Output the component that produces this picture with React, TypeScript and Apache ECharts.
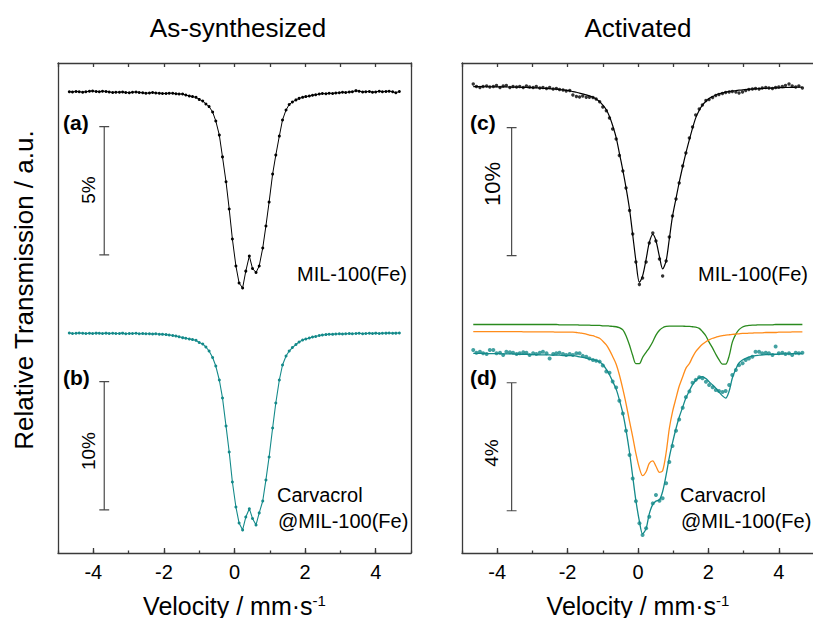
import React, { useEffect, useRef } from "react";
import * as echarts from "echarts";

// Channel velocities (mm/s), shared by all four spectra
const VELOCITY = [
  -4.68, -4.59, -4.49, -4.40, -4.30, -4.21, -4.11, -4.02, -3.92, -3.83,
  -3.74, -3.64, -3.55, -3.45, -3.36, -3.26, -3.17, -3.08, -2.98, -2.89,
  -2.79, -2.70, -2.60, -2.51, -2.41, -2.32, -2.23, -2.13, -2.04, -1.94,
  -1.85, -1.75, -1.66, -1.57, -1.47, -1.38, -1.28, -1.19, -1.09, -1.00,
  -0.90, -0.81, -0.72, -0.62, -0.53, -0.43, -0.34, -0.24, -0.15, -0.06,
  0.04, 0.13, 0.23, 0.32, 0.42, 0.51, 0.61, 0.70, 0.80, 0.89,
  0.98, 1.08, 1.17, 1.27, 1.36, 1.46, 1.55, 1.64, 1.74, 1.83,
  1.93, 2.02, 2.12, 2.21, 2.30, 2.40, 2.49, 2.59, 2.68, 2.78,
  2.87, 2.97, 3.06, 3.15, 3.25, 3.34, 3.44, 3.53, 3.63, 3.72,
  3.82, 3.91, 4.00, 4.10, 4.19, 4.29, 4.38, 4.48, 4.57, 4.67,
];

// (a) As-synthesized MIL-100(Fe), relative transmission %
const AS_MIL = [
  100.00, 99.99, 100.01, 100.00, 99.98, 100.00, 100.02, 100.03, 100.01, 100.00,
  100.02, 100.01, 99.99, 99.97, 99.98, 99.98, 99.99, 99.97, 99.96, 99.98,
  99.99, 99.97, 99.96, 99.94, 99.95, 99.97, 99.95, 99.94, 99.93, 99.93,
  99.94, 99.94, 99.92, 99.91, 99.91, 99.87, 99.83, 99.81, 99.78, 99.70,
  99.64, 99.52, 99.42, 99.21, 98.86, 98.31, 97.46, 96.49, 95.43, 94.26,
  93.21, 92.55, 92.35, 93.01, 93.60, 93.11, 92.96, 93.21, 93.91, 94.77,
  95.70, 96.79, 97.53, 98.27, 98.90, 99.29, 99.50, 99.60, 99.68, 99.74,
  99.78, 99.81, 99.83, 99.86, 99.88, 99.91, 99.93, 99.92, 99.94, 99.93,
  99.95, 99.96, 99.98, 99.97, 99.99, 100.00, 100.04, 100.02, 99.99, 100.00,
  100.01, 99.98, 99.99, 100.02, 100.00, 100.01, 100.02, 100.00, 99.96, 100.01,
];

// (b) As-synthesized Carvacrol@MIL-100(Fe)
const AS_CARV = [
  100.02, 99.98, 100.00, 100.02, 100.00, 99.98, 100.00, 99.99, 100.01, 100.00,
  99.98, 100.01, 99.99, 100.00, 99.98, 99.99, 100.01, 99.97, 99.99, 99.98,
  100.00, 99.97, 99.98, 99.96, 99.97, 99.95, 99.96, 99.93, 99.92, 99.90,
  99.87, 99.83, 99.79, 99.73, 99.66, 99.61, 99.56, 99.51, 99.45, 99.28,
  99.17, 98.93, 98.62, 98.11, 97.45, 96.36, 94.96, 92.77, 90.75, 88.41,
  86.46, 85.21, 84.67, 85.68, 86.33, 85.57, 85.06, 86.00, 86.93, 88.57,
  90.36, 92.62, 94.57, 96.36, 97.53, 98.23, 98.62, 98.89, 99.13, 99.32,
  99.48, 99.56, 99.63, 99.71, 99.75, 99.83, 99.87, 99.90, 99.93, 99.92,
  99.95, 99.97, 99.94, 99.96, 99.99, 99.97, 99.98, 100.00, 99.97, 99.99,
  100.00, 99.98, 100.01, 99.99, 100.00, 100.01, 100.02, 100.00, 100.01, 100.02,
];

// (c) Activated MIL-100(Fe): data and fit
const ACT_MIL = [
  100.20, 100.00, 99.92, 100.00, 100.04, 99.96, 100.00, 100.08, 99.92, 100.04,
  100.08, 99.92, 100.00, 99.96, 100.00, 99.92, 100.04, 99.96, 99.92, 100.00,
  99.88, 99.92, 99.84, 99.92, 99.80, 99.84, 99.77, 99.73, 99.65, 99.69,
  99.34, 99.22, 99.18, 99.26, 99.16, 99.16, 99.14, 99.02, 98.81, 98.40,
  98.11, 97.54, 96.68, 95.90, 94.61, 93.40, 92.07, 90.31, 88.48, 86.29,
  84.53, 85.04, 86.29, 87.77, 88.55, 87.93, 86.52, 85.20, 86.37, 88.24,
  89.88, 91.21, 92.46, 93.79, 94.80, 95.98, 96.84, 97.77, 98.24, 98.55,
  98.91, 98.98, 99.14, 99.30, 99.38, 99.45, 99.53, 99.57, 99.61, 99.57,
  99.49, 99.57, 99.69, 99.77, 99.80, 99.84, 99.80, 99.88, 99.92, 99.88,
  99.84, 99.92, 99.96, 100.00, 100.08, 100.20, 100.04, 99.96, 100.04, 99.88,
];
const ACT_MIL_FIT = [
  99.99, 99.99, 99.99, 99.98, 99.98, 99.98, 99.98, 99.97, 99.97, 99.97,
  99.96, 99.96, 99.95, 99.95, 99.94, 99.93, 99.92, 99.91, 99.90, 99.89,
  99.88, 99.86, 99.85, 99.83, 99.81, 99.79, 99.76, 99.73, 99.70, 99.66,
  99.60, 99.55, 99.48, 99.42, 99.35, 99.27, 99.16, 99.02, 98.82, 98.55,
  98.18, 97.65, 96.95, 96.00, 94.80, 93.45, 92.10, 90.40, 88.40, 86.40,
  84.70, 85.20, 86.50, 87.80, 88.45, 87.95, 86.70, 85.75, 86.40, 88.10,
  89.85, 91.25, 92.50, 93.75, 94.80, 95.85, 96.75, 97.55, 98.15, 98.55,
  98.85, 99.07, 99.22, 99.34, 99.43, 99.50, 99.56, 99.61, 99.65, 99.68,
  99.71, 99.74, 99.76, 99.78, 99.80, 99.82, 99.83, 99.85, 99.86, 99.87,
  99.88, 99.89, 99.90, 99.91, 99.92, 99.93, 99.93, 99.94, 99.94, 99.95,
];

// (d) Activated Carvacrol@MIL-100(Fe): data, total fit and two sub-spectra
const ACT_CARV = [
  100.10, 100.02, 100.05, 100.00, 99.98, 100.10, 100.10, 100.00, 100.02, 99.95,
  100.05, 100.03, 100.02, 99.98, 100.00, 100.03, 100.02, 99.95, 100.00, 99.98,
  100.02, 100.05, 100.00, 99.84, 99.98, 100.00, 100.02, 99.98, 99.95, 99.98,
  99.95, 100.00, 100.00, 99.92, 99.89, 99.84, 99.79, 99.77, 99.74, 99.62,
  99.43, 99.39, 99.12, 98.93, 98.52, 98.12, 97.58, 96.82, 96.09, 95.38,
  94.69, 94.32, 94.53, 94.89, 95.31, 95.57, 95.39, 95.47, 95.94, 96.60,
  97.10, 97.58, 97.93, 98.30, 98.63, 98.81, 99.08, 99.17, 99.25, 99.22,
  99.11, 99.01, 98.94, 98.85, 98.82, 98.79, 98.82, 99.01, 99.32, 99.48,
  99.63, 99.69, 99.79, 99.84, 99.89, 100.05, 100.05, 100.00, 100.02, 100.00,
  99.95, 100.21, 100.00, 100.02, 99.98, 100.00, 99.95, 100.02, 100.00, 100.02,
];
const ACT_CARV_FIT = [
  100.00, 100.00, 100.00, 100.00, 99.99, 99.99, 99.99, 99.99, 99.99, 99.98,
  99.98, 99.98, 99.98, 99.97, 99.97, 99.97, 99.97, 99.96, 99.96, 99.96,
  99.95, 99.95, 99.95, 99.95, 99.94, 99.94, 99.94, 99.93, 99.93, 99.93,
  99.93, 99.91, 99.89, 99.87, 99.85, 99.82, 99.80, 99.77, 99.73, 99.65,
  99.50, 99.33, 99.12, 98.88, 98.55, 98.12, 97.60, 96.90, 96.15, 95.40,
  94.75, 94.36, 94.52, 94.98, 95.28, 95.38, 95.42, 95.68, 96.20, 96.75,
  97.20, 97.65, 98.00, 98.32, 98.60, 98.83, 99.02, 99.15, 99.24, 99.27,
  99.21, 99.11, 99.01, 98.91, 98.79, 98.67, 98.60, 98.82, 99.23, 99.51,
  99.70, 99.79, 99.84, 99.88, 99.91, 99.93, 99.94, 99.95, 99.96, 99.96,
  99.97, 99.97, 99.97, 99.98, 99.98, 99.98, 99.99, 99.99, 99.99, 99.99,
];
const ACT_CARV_GREEN = [
  100.90, 100.90, 100.90, 100.90, 100.90, 100.90, 100.90, 100.90, 100.90, 100.90,
  100.90, 100.90, 100.90, 100.90, 100.90, 100.90, 100.90, 100.90, 100.90, 100.90,
  100.90, 100.90, 100.90, 100.90, 100.90, 100.90, 100.89, 100.89, 100.89, 100.89,
  100.89, 100.89, 100.88, 100.88, 100.88, 100.88, 100.87, 100.87, 100.87, 100.86,
  100.86, 100.85, 100.84, 100.83, 100.80, 100.73, 100.55, 100.25, 99.93, 99.68,
  99.68, 99.87, 100.03, 100.17, 100.36, 100.57, 100.72, 100.80, 100.84, 100.85,
  100.85, 100.85, 100.85, 100.85, 100.84, 100.84, 100.83, 100.82, 100.78, 100.68,
  100.54, 100.35, 100.16, 99.97, 99.80, 99.66, 99.66, 99.92, 100.35, 100.60,
  100.74, 100.82, 100.86, 100.87, 100.88, 100.88, 100.89, 100.89, 100.89, 100.89,
  100.89, 100.90, 100.90, 100.90, 100.90, 100.90, 100.90, 100.90, 100.90, 100.90,
];
const ACT_CARV_ORANGE = [
  100.68, 100.68, 100.68, 100.68, 100.68, 100.68, 100.68, 100.68, 100.68, 100.68,
  100.68, 100.68, 100.68, 100.68, 100.68, 100.67, 100.67, 100.67, 100.67, 100.67,
  100.67, 100.67, 100.67, 100.67, 100.67, 100.66, 100.66, 100.66, 100.66, 100.66,
  100.66, 100.65, 100.64, 100.62, 100.60, 100.57, 100.55, 100.51, 100.47, 100.38,
  100.26, 100.10, 99.90, 99.66, 99.33, 98.88, 98.43, 97.87, 97.39, 96.87,
  96.41, 96.18, 96.30, 96.56, 96.64, 96.47, 96.28, 96.33, 96.90, 97.65,
  98.17, 98.60, 98.97, 99.27, 99.53, 99.68, 99.88, 100.05, 100.18, 100.28,
  100.36, 100.42, 100.47, 100.50, 100.53, 100.55, 100.57, 100.58, 100.59, 100.60,
  100.61, 100.62, 100.62, 100.63, 100.63, 100.64, 100.64, 100.64, 100.65, 100.65,
  100.65, 100.65, 100.66, 100.66, 100.66, 100.66, 100.67, 100.67, 100.67, 100.67,
];

// Scale bars: (a), (b), (c), (d)
const SCALE_X = [-3.69, -3.69, -3.59, -3.59];
const SCALE_TOP = [98.64, 96.23, 96.78, 99.08];
const SCALE_PCT = [5, 10, 10, 4];
const SCALE_LABELS = ["5%", "10%", "10%", "4%"];

const MAJOR_TICKS = [-4, -2, 0, 2, 4];

const FONT = "'Liberation Sans', Arial, Helvetica, sans-serif";
const TEAL = "#148a8a";
const ORANGE = "#ff8c1a";
const GREEN = "#2a8a1e";
const AXIS_COLOR = "#3a3a3a";

// layout
const GRID_TOP = 63;
const GRID_H = 490;
const PANELS = [
  { left: 58, width: 353 },
  { left: 462, width: 352 },
];
// baseline pixel and px per % for each spectrum (a, b, c, d)
const SPEC_LAYOUT = [
  { base: 91.7, ppp: 25.67 },
  { base: 333.3, ppp: 12.83 },
  { base: 86.5, ppp: 12.8 },
  { base: 353.3, ppp: 32 },
];

const zip = (ys: number[]) => VELOCITY.map((v, i) => [v, ys[i]]);

function specAxis(gridIndex: number, k: number) {
  const { base, ppp } = SPEC_LAYOUT[k];
  return {
    gridIndex,
    type: "value",
    show: false,
    min: 100 - (GRID_TOP + GRID_H - base) / ppp,
    max: 100 + (base - GRID_TOP) / ppp,
    axisLine: { onZero: false },
    splitLine: { show: false },
  };
}

function scaleBar(k: number, xAxisIndex: number, yAxisIndex: number) {
  const x = SCALE_X[k];
  const t = SCALE_TOP[k];
  const b = t - SCALE_PCT[k];
  const c = 0.14;
  return {
    type: "line",
    xAxisIndex,
    yAxisIndex,
    data: [
      [x - c, t],
      [x + c, t],
      [x, t],
      [x, b],
      [x - c, b],
      [x + c, b],
    ],
    showSymbol: false,
    symbol: "none",
    lineStyle: { color: "#4a4a4a", width: 1.2 },
    silent: true,
    z: 5,
  };
}

export default function App() {
  const ref = useRef<HTMLDivElement>(null);

  useEffect(() => {
    if (!ref.current) return;
    const chart = echarts.init(ref.current, undefined, { renderer: "svg" });

    const axisLineStyle = { color: AXIS_COLOR, width: 1.3 };

    const xAxes: any[] = [];
    const yAxes: any[] = [];
    PANELS.forEach((_, g) => {
      xAxes.push({
        gridIndex: g,
        type: "value",
        position: "bottom",
        min: -5,
        max: 5,
        axisLine: { show: true, onZero: false, lineStyle: axisLineStyle },
        axisTick: {
          show: true,
          inside: true,
          length: 5,
          customValues: MAJOR_TICKS,
          lineStyle: axisLineStyle,
        },
        axisLabel: {
          show: true,
          customValues: MAJOR_TICKS,
          fontSize: 20,
          color: "#000",
          fontFamily: FONT,
          margin: 9,
        },
        splitLine: { show: false },
        name: "{a|Velocity / mm·s}{b|-1}",
        nameLocation: "middle",
        nameGap: 40,
        nameTextStyle: {
          rich: {
            a: { fontSize: 25, fontFamily: FONT, color: "#000" },
            b: { fontSize: 15, fontFamily: FONT, color: "#000", verticalAlign: "top" },
          },
        },
      });
      xAxes.push({
        gridIndex: g,
        type: "value",
        position: "bottom",
        min: -5,
        max: 5,
        interval: 1,
        axisLine: { show: false, onZero: false },
        axisTick: { show: true, inside: true, length: 2.5, lineStyle: axisLineStyle },
        axisLabel: { show: false },
        splitLine: { show: false },
      });
      xAxes.push({
        gridIndex: g,
        type: "value",
        position: "top",
        min: -5,
        max: 5,
        interval: 1,
        axisLine: { show: true, onZero: false, lineStyle: axisLineStyle },
        axisTick: { show: true, inside: true, length: 4, lineStyle: axisLineStyle },
        axisLabel: { show: false },
        splitLine: { show: false },
      });
      for (const pos of ["left", "right"]) {
        yAxes.push({
          gridIndex: g,
          type: "value",
          position: pos,
          min: 0,
          max: 1,
          axisLine: { show: true, onZero: false, lineStyle: axisLineStyle },
          axisTick: { show: false },
          axisLabel: { show: false },
          splitLine: { show: false },
        });
      }
      yAxes.push(specAxis(g, g * 2));
      yAxes.push(specAxis(g, g * 2 + 1));
    });

    const series: any[] = [
      // (a)
      {
        type: "line",
        xAxisIndex: 0,
        yAxisIndex: 2,
        data: zip(AS_MIL),
        symbol: "circle",
        symbolSize: 3,
        showSymbol: true,
        lineStyle: { color: "#000", width: 1 },
        itemStyle: { color: "#000" },
        z: 3,
      },
      // (b)
      {
        type: "line",
        xAxisIndex: 0,
        yAxisIndex: 3,
        data: zip(AS_CARV),
        symbol: "circle",
        symbolSize: 3,
        showSymbol: true,
        lineStyle: { color: TEAL, width: 1.1 },
        itemStyle: { color: TEAL },
        z: 3,
      },
      // (c) fit
      {
        type: "line",
        xAxisIndex: 3,
        yAxisIndex: 6,
        data: zip(ACT_MIL_FIT),
        showSymbol: false,
        symbol: "none",
        smooth: 0.3,
        lineStyle: { color: "#000", width: 1.2 },
        z: 2,
      },
      // (c) data
      {
        type: "scatter",
        xAxisIndex: 3,
        yAxisIndex: 6,
        data: zip(ACT_MIL),
        symbol: "circle",
        symbolSize: 3.4,
        itemStyle: { color: "#000" },
        z: 3,
      },
      // (d) green sub-spectrum
      {
        type: "line",
        xAxisIndex: 3,
        yAxisIndex: 7,
        data: zip(ACT_CARV_GREEN),
        showSymbol: false,
        symbol: "none",
        smooth: 0.3,
        lineStyle: { color: GREEN, width: 1.3 },
        z: 2,
      },
      // (d) orange sub-spectrum
      {
        type: "line",
        xAxisIndex: 3,
        yAxisIndex: 7,
        data: zip(ACT_CARV_ORANGE),
        showSymbol: false,
        symbol: "none",
        smooth: 0.3,
        lineStyle: { color: ORANGE, width: 1.3 },
        z: 2,
      },
      // (d) total fit
      {
        type: "line",
        xAxisIndex: 3,
        yAxisIndex: 7,
        data: zip(ACT_CARV_FIT),
        showSymbol: false,
        symbol: "none",
        smooth: 0.3,
        lineStyle: { color: TEAL, width: 1.3 },
        z: 2,
      },
      // (d) data
      {
        type: "scatter",
        xAxisIndex: 3,
        yAxisIndex: 7,
        data: zip(ACT_CARV),
        symbol: "circle",
        symbolSize: 4,
        itemStyle: { color: TEAL },
        z: 3,
      },
      scaleBar(0, 0, 2),
      scaleBar(1, 0, 3),
      scaleBar(2, 3, 6),
      scaleBar(3, 3, 7),
    ];

    const txt = (
      text: string,
      x: number,
      y: number,
      opts: { size?: number; align?: string; bold?: boolean; rotate?: boolean } = {}
    ) => ({
      type: "text",
      x,
      y,
      rotation: opts.rotate ? Math.PI / 2 : 0,
      silent: true,
      style: {
        text,
        fill: "#000",
        fontSize: opts.size ?? 20,
        fontFamily: FONT,
        fontWeight: opts.bold ? "bold" : "normal",
        align: opts.align ?? "left",
        verticalAlign: "middle",
      },
    });

    const graphic: any[] = [
      txt("As-synthesized", 238, 28, { size: 26, align: "center" }),
      txt("Activated", 638, 28, { size: 26, align: "center" }),
      txt("Relative Transmission / a.u.", 24, 290, { size: 26, align: "center", rotate: true }),
      txt("(a)", 63, 122, { size: 21, bold: true }),
      txt("(b)", 63, 377, { size: 21, bold: true }),
      txt("(c)", 470, 122, { size: 21, bold: true }),
      txt("(d)", 470, 377, { size: 21, bold: true }),
      txt("MIL-100(Fe)", 407, 274, { size: 20, align: "right" }),
      txt("MIL-100(Fe)", 808, 274, { size: 20, align: "right" }),
      txt("Carvacrol", 277, 495, { size: 20 }),
      txt("@MIL-100(Fe)", 278, 521, { size: 20 }),
      txt("Carvacrol", 680, 495, { size: 20 }),
      txt("@MIL-100(Fe)", 681, 521, { size: 20 }),
      txt(SCALE_LABELS[0], 88, 190, { size: 19, align: "center", rotate: true }),
      txt(SCALE_LABELS[1], 88, 451, { size: 19, align: "center", rotate: true }),
      txt(SCALE_LABELS[2], 492, 184, { size: 22, align: "center", rotate: true }),
      txt(SCALE_LABELS[3], 491, 453, { size: 19, align: "center", rotate: true }),
    ];

    chart.setOption({
      animation: false,
      backgroundColor: "#fff",
      grid: PANELS.map((p) => ({
        left: p.left,
        top: GRID_TOP,
        width: p.width,
        height: GRID_H,
        containLabel: false,
        outerBoundsMode: "none",
      })),
      xAxis: xAxes,
      yAxis: yAxes,
      series,
      graphic,
    });

    return () => chart.dispose();
  }, []);

  return (
    <div
      ref={ref}
      style={{ position: "absolute", left: 0, top: 0, width: 813, height: 618, background: "#fff" }}
    />
  );
}
